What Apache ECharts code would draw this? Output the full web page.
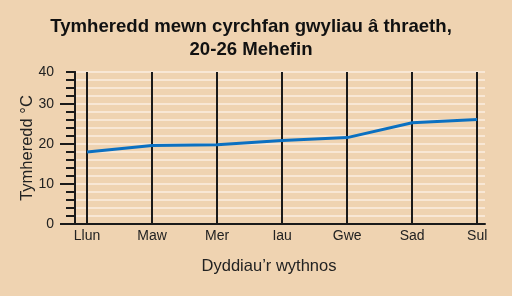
<!DOCTYPE html>
<html><head><meta charset="utf-8">
<script src="https://cdn.jsdelivr.net/npm/echarts@6/dist/echarts.min.js"></script>
<style>html,body{margin:0;padding:0;background:#efd3b1;}#c{width:512px;height:296px;}</style>
</head><body><div id="c"></div>
<script>
const categories = ['Llun','Maw','Mer','Iau','Gwe','Sad','Sul'];
const temps = [18.0, 19.6, 19.8, 20.9, 21.6, 25.3, 26.1];
const yTickValues = [0, 10, 20, 30, 38];
const yTickLabels = ['0', '10', '20', '30', '40'];
const titleLines = ['Tymheredd mewn cyrchfan gwyliau â thraeth,', '20-26 Mehefin'];

const font = '"Liberation Sans", Arial, sans-serif';
const ink = '#1a1a1a';
const chart = echarts.init(document.getElementById('c'));
const catIdx = categories.map((c, i) => i);

chart.setOption({
  backgroundColor: '#efd3b1',
  animation: false,
  title: {
    text: titleLines.join('\n'), left: 246, top: 10, textAlign: 'center',
    textStyle: {fontFamily: font, fontSize: 18.6, fontWeight: 'bold', color: '#111', lineHeight: 23}
  },
  grid: {left: 75, right: 27, top: 72, bottom: 72},
  xAxis: {
    type: 'value', min: -0.185, max: 6.12,
    axisLine: {show: true, onZero: false, lineStyle: {color: ink, width: 2}},
    axisTick: {show: false},
    splitLine: {show: false},
    axisLabel: {customValues: catIdx, formatter: v => categories[Math.round(v)], fontFamily: font, fontSize: 14, color: '#222', margin: 5},
    name: 'Dyddiau’r wythnos', nameLocation: 'middle', nameGap: 34,
    nameTextStyle: {fontFamily: font, fontSize: 16.5, color: '#222', padding: [0, 22, 0, 0]}
  },
  yAxis: [{
    type: 'value', min: 0, max: 38, interval: 2, position: 'left', offset: 0,
    axisLine: {show: true, onZero: false, lineStyle: {color: ink, width: 2}},
    axisTick: {show: true, inside: false, length: 9, lineStyle: {color: ink, width: 2}},
    splitLine: {show: true, lineStyle: {color: '#f8e7d5', width: 2}},
    axisLabel: {show: false}
  }, {
    type: 'value', min: 0, max: 38, interval: 2, position: 'left', offset: 0,
    axisLine: {show: true, onZero: false, lineStyle: {color: ink, width: 2}},
    axisTick: {show: true, inside: false, customValues: [0, 10, 20, 30], length: 15, lineStyle: {color: ink, width: 2}},
    splitLine: {show: false},
    axisLabel: {customValues: yTickValues, formatter: v => yTickLabels[yTickValues.indexOf(v)], fontFamily: font, fontSize: 14, color: '#222', margin: 21},
    name: 'Tymheredd °C', nameLocation: 'middle', nameGap: 39, nameMoveOverlap: false,
    nameTextStyle: {fontFamily: font, fontSize: 16.5, color: '#222'}
  }],
  series: [{
    type: 'line', yAxisIndex: 0,
    data: temps.map((t, i) => [i, t]),
    showSymbol: false, symbol: 'none',
    lineStyle: {color: '#0b70c1', width: 3},
    z: 5,
    markLine: {
      silent: true, symbol: 'none', label: {show: false},
      lineStyle: {color: ink, width: 2, type: 'solid'},
      data: catIdx.map(i => ({xAxis: i})),
      z: 3
    }
  }]
});
</script></body></html>
